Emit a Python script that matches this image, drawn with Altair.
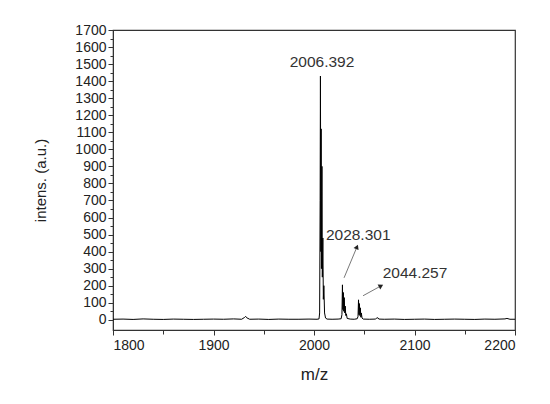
import altair as alt
import pandas as pd

# spectrum (m/z, intensity)
mz = [1800, 1810, 1820, 1830, 1840, 1850, 1860, 1870, 1880, 1890, 1900, 1910, 1920, 1928,
      1931, 1932, 1933, 1936, 1945, 1955, 1965, 1975, 1985, 1995, 2003, 2005,
      2005.6, 2006.1, 2006.4, 2006.8, 2007.1, 2007.4, 2007.9, 2008.3, 2008.8, 2009.3, 2009.8,
      2010.5, 2011.5, 2013, 2018, 2024, 2027,
      2027.8, 2028.3, 2028.7, 2029.2, 2029.6, 2030.1, 2030.6, 2031.1, 2031.6, 2032.2, 2033,
      2036, 2040, 2043,
      2043.8, 2044.3, 2044.7, 2045.2, 2045.6, 2046.1, 2046.6, 2047.1, 2047.8, 2049,
      2055, 2061, 2062.5, 2063.5, 2064.5, 2070, 2080, 2090, 2100, 2110, 2120, 2130,
      2140, 2150, 2160, 2170, 2180, 2190, 2192, 2195, 2200]
intensity = [3, 4, 2, 5, 3, 2, 4, 3, 2, 3, 4, 3, 5, 3,
             14, 20, 12, 3, 4, 2, 4, 3, 3, 4, 3, 5,
             40, 700, 1430, 400, 1120, 300, 900, 250, 480, 120, 200,
             40, 10, 4, 3, 4, 6,
             30, 205, 60, 160, 50, 130, 40, 80, 25, 35, 8,
             4, 3, 6,
             20, 117, 30, 95, 25, 70, 15, 40, 10, 4,
             3, 4, 10, 12, 4, 3, 4, 2, 3, 4, 2, 3,
             4, 3, 2, 4, 3, 5, 8, 3, 3]

# peak labels
label_text = ["2006.392", "2028.301", "2044.257"]
label_mz = [2008, 2044, 2100.5]
label_y = [1512, 498, 275]

# arrows (start -> end)
arrow_x = [2029.9, 2048.8]
arrow_y = [246, 141]
arrow_x2 = [2042.8, 2066.7]
arrow_y2 = [428, 199]
arrow_angle = [23, 61]

# axis ticks (major every 100, minor halfway)
x_ticks = [1800, 1850, 1900, 1950, 2000, 2050, 2100, 2150, 2200]
y_ticks = [0, 50, 100, 150, 200, 250, 300, 350, 400, 450, 500, 550, 600, 650, 700, 750,
           800, 850, 900, 950, 1000, 1050, 1100, 1150, 1200, 1250, 1300, 1350, 1400, 1450,
           1500, 1550, 1600, 1650, 1700]

spec = pd.DataFrame({"mz": mz, "intensity": intensity})
labels = pd.DataFrame({"mz": label_mz, "y": label_y, "t": label_text})
arrows = pd.DataFrame({"x": arrow_x, "y": arrow_y, "x2": arrow_x2, "y2": arrow_y2, "a": arrow_angle})

xs = alt.Scale(domain=[1800, 2200], nice=False)
ys = alt.Scale(domain=[-60, 1700], nice=False)

major_test = "datum.value % 100 == 0"
axis_common = dict(domainColor="#333", tickColor="#333", labelColor="#222",
                   labelFont="Liberation Sans", labelFontSize=14,
                   titleFont="Liberation Sans", titleFontWeight="normal",
                   titleColor="#222", grid=False, labelOverlap=False,
                   labelExpr=f"{major_test} ? datum.label : ''")

x_axis = alt.Axis(values=x_ticks, labelPadding=3, titlePadding=14, format="d", titleFontSize=17,
                  tickSize={"condition": {"test": major_test, "value": 5}, "value": 4},
                  **axis_common)
y_axis = alt.Axis(values=y_ticks, labelPadding=2, titlePadding=26, format="d", titleFontSize=15,
                  tickSize={"condition": {"test": major_test, "value": 5}, "value": 3},
                  **axis_common)
XT = "m/z"
YT = "intens. (a.u.)"

line = alt.Chart(spec).mark_line(color="black", strokeWidth=1).encode(
    x=alt.X("mz:Q", scale=xs, title=XT, axis=x_axis),
    y=alt.Y("intensity:Q", scale=ys, title=YT, axis=y_axis),
)

text = alt.Chart(labels).mark_text(font="Liberation Sans", fontSize=15.5, color="#333",
                                   baseline="middle", align="center").encode(
    x=alt.X("mz:Q", scale=xs, title=XT, axis=x_axis),
    y=alt.Y("y:Q", scale=ys, title=YT, axis=y_axis), text="t:N")

arrow_lines = alt.Chart(arrows).mark_rule(color="#555", strokeWidth=0.8).encode(
    x=alt.X("x:Q", scale=xs, title=XT, axis=x_axis),
    y=alt.Y("y:Q", scale=ys, title=YT, axis=y_axis), x2="x2:Q", y2="y2:Q")

arrow_heads = alt.Chart(arrows).mark_point(shape="triangle-up", filled=True, color="#222",
                                           size=30, opacity=1).encode(
    x=alt.X("x2:Q", scale=xs, title=XT, axis=x_axis),
    y=alt.Y("y2:Q", scale=ys, title=YT, axis=y_axis),
    angle=alt.Angle("a:Q", scale=None))

chart = alt.layer(line, arrow_lines, arrow_heads, text).properties(
    width=402, height=300,
    autosize=alt.AutoSizeParams(type="none"),
    padding={"left": 105, "top": 22, "right": 27, "bottom": 66},
).configure_view(stroke="#333", strokeWidth=1.2).configure_axis(labelOverlap=False)

chart.save("out.html", embed_options={"renderer": "svg", "actions": False})
